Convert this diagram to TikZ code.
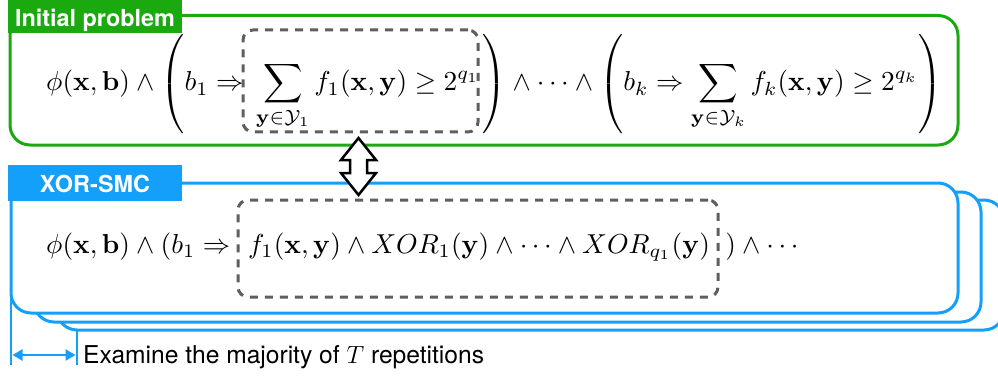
\documentclass[tikz,border=0pt]{standalone}
\usepackage[no-math]{fontspec}
\setsansfont{TeX Gyre Heros}
\usepackage{amsmath,amssymb}
\usepackage{graphicx}
\usetikzlibrary{arrows.meta}
\definecolor{gr}{RGB}{26,170,16}
\definecolor{bl}{RGB}{20,160,250}
\definecolor{dg}{RGB}{95,95,95}
\newcommand{\bigmath}[1]{\scalebox{2.74}{#1}}
\tikzset{
  dashbox/.style={draw=dg, line width=3pt, dash pattern=on 8pt off 7pt, rounded corners=10pt, inner sep=0pt},
  greenbox/.style={draw=gr, line width=3pt, rounded corners=20pt, fill=white, inner sep=0pt},
  bluebox/.style={draw=bl, line width=3pt, rounded corners=20pt, fill=white, inner sep=0pt},
  tag/.style={text=white, font=\sffamily\bfseries\fontsize{23.4}{28}\selectfont, inner sep=0pt, minimum width=174pt},
  formula/.style={anchor=base west, inner sep=0pt, font=\fontsize{10}{12}\selectfont},
  dimline/.style={draw=bl, line width=2.5pt},
}
\begin{document}
\begin{tikzpicture}[x=1pt,y=-1pt]
\useasboundingbox (0,0) rectangle (998,377);
\clip (0,0) rectangle (998,377);
% Initial problem
\node[greenbox, minimum width=948pt, minimum height=129.5pt] (init) at (484,80.25) {};
\node[tag, fill=gr, minimum height=33pt, text height=21pt, text depth=0pt] (inittag) at (95,16.5) {Initial problem};
\node[dashbox, minimum width=235pt, minimum height=102pt] (d1) at (360.5,81) {};
\node[formula] (f1) at (46,91) {\bigmath{$\displaystyle \phi(\mathbf{x},\mathbf{b}) \wedge \left(b_1 \Rightarrow \hspace{1.8pt}\sum_{\mathbf{y}\in\mathcal{Y}_1} f_1(\mathbf{x},\mathbf{y}) \geq 2^{q_1}\hspace{1.1pt}\right) \wedge \cdots \wedge \left(b_k \Rightarrow \sum_{\mathbf{y}\in\mathcal{Y}_k} f_k(\mathbf{x},\mathbf{y}) \geq 2^{q_k}\right)$}};
% XOR-SMC stacked boxes
\node[bluebox, minimum width=947pt, minimum height=130pt] (b3) at (530.5,265) {};
\node[bluebox, minimum width=947pt, minimum height=130pt] (b2) at (507.5,257) {};
\node[bluebox, minimum width=947pt, minimum height=130pt] (b1) at (484.5,248) {};
\node[tag, fill=bl, minimum height=35.5pt, text height=19pt, text depth=0pt] (xortag) at (95,182.75) {XOR-SMC};
\node[dashbox, minimum width=480pt, minimum height=97pt] (d2) at (478,248.5) {};
\node[formula] (f2) at (46,253) {\bigmath{$\phi(\mathbf{x},\mathbf{b}) \wedge (b_1 \Rightarrow \hspace{3.7pt} f_1(\mathbf{x},\mathbf{y}) \wedge XOR_1(\mathbf{y}) \wedge \cdots \wedge XOR_{q_1}(\mathbf{y}) \hspace{5.6pt}) \wedge \cdots$}};
% double arrow between the two problems
\coordinate (top) at (358.5,138);
\draw[line width=2.5pt, fill=white, line join=miter]
  (top) -- ++(17.5,22) -- ++(-9,0) -- ++(0,13) -- ++(9,0) -- ++(-17.5,22)
  -- ++(-17.5,-22) -- ++(9,0) -- ++(0,-13) -- ++(-9,0) -- cycle;
% repetitions dimension
\coordinate (dA) at (11,365);
\coordinate (dB) at (77,365);
\draw[dimline] (11,295) -- (dA);
\draw[dimline] (77,331) -- (dB);
\draw[dimline, {Triangle[length=10pt,width=11pt]}-{Triangle[length=10pt,width=11pt]}] (12.5,355) -- (75.5,355);
\node[anchor=base west, inner sep=0pt, font=\sffamily\fontsize{24.6}{28}\selectfont] (rep) at (83,363) {Examine the majority of $T$ repetitions};
\end{tikzpicture}
\end{document}
